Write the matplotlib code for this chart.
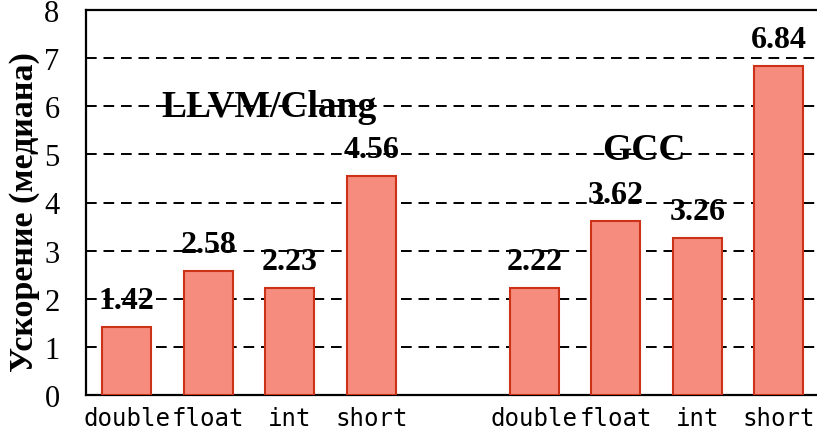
import matplotlib
matplotlib.use("Agg")
import matplotlib.pyplot as plt

categories = ["double", "float", "int", "short"]
groups = ["LLVM/Clang", "GCC"]
llvm_values = [1.42, 2.58, 2.23, 4.56]
gcc_values = [2.22, 3.62, 3.26, 6.84]
yticks = [0, 1, 2, 3, 4, 5, 6, 7, 8]
ylabel = "Ускорение (медиана)"

fig = plt.figure(figsize=(8.17, 4.31), dpi=100)
ax = fig.add_axes([86/817, 35/431, 733.5/817, 385/431])

pos_llvm = [0, 1, 2, 3]
pos_gcc = [5, 6, 7, 8]
fill = "#F68C7D"
edge = "#CC3218"
serif = ["Liberation Serif", "DejaVu Serif"]

ax.bar(pos_llvm, llvm_values, width=0.6, color=fill, edgecolor=edge, linewidth=1.5, zorder=3)
ax.bar(pos_gcc, gcc_values, width=0.6, color=fill, edgecolor=edge, linewidth=1.5, zorder=3)

for p, v in list(zip(pos_llvm, llvm_values)) + list(zip(pos_gcc, gcc_values)):
    ax.annotate(f"{v:.2f}", (p, v), xytext=(0, 13.5), textcoords="offset points",
                ha="center", va="baseline", fontsize=23, fontweight="bold",
                family=serif, zorder=1)

ax.text(1.75, 6.0, groups[0], ha="center", va="center", fontsize=27,
        fontweight="bold", family=serif, zorder=1)
ax.text(6.35, 5.1, groups[1], ha="center", va="center", fontsize=27,
        fontweight="bold", family=serif, zorder=1)

ax.set_xlim(-0.5, 8.5)
ax.set_ylim(0, 8)
ax.tick_params(axis="both", length=0)
ax.tick_params(axis="y", pad=19)
ax.tick_params(axis="x", pad=8)
ax.set_yticks(yticks)
ax.set_yticklabels([str(t) for t in yticks], fontsize=22, family=serif)
ax.set_xticks(pos_llvm + pos_gcc)
ax.set_xticklabels(categories + categories, fontsize=17.4, family="DejaVu Sans Mono")

for t in yticks[1:-1]:
    ax.axhline(t, color="black", linewidth=1.4, linestyle=(0, (5.5, 3.5)), zorder=2)

for s in ["top", "left", "bottom", "right"]:
    ax.spines[s].set_linewidth(1.6)
    ax.spines[s].set_color("black")

ax.set_ylabel(ylabel, fontsize=24.5, fontweight="bold", family=serif)
ax.yaxis.set_label_coords(-0.063, 0.479)

fig.savefig("out.png", dpi=100)
